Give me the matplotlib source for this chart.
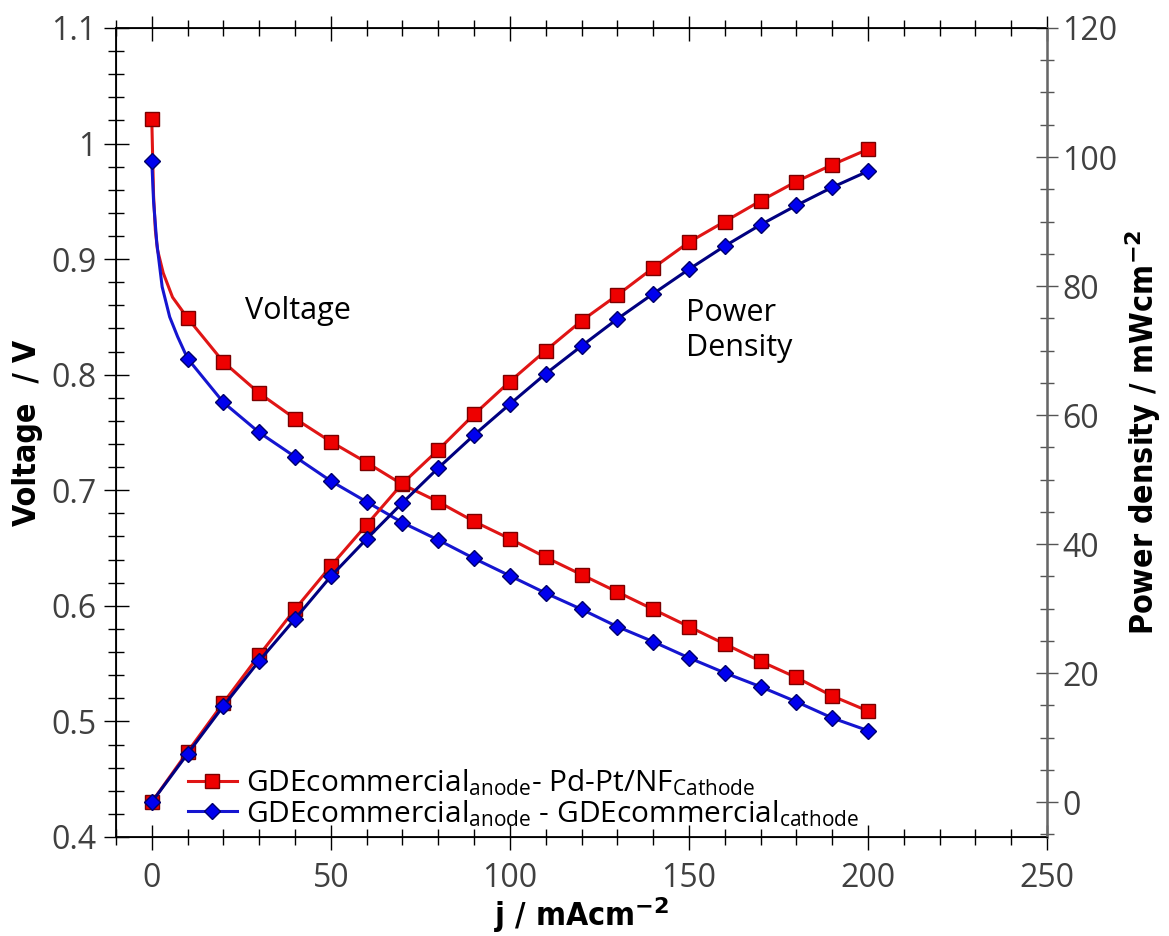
import numpy as np
import matplotlib
matplotlib.use("Agg")
import matplotlib.pyplot as plt
from matplotlib import font_manager
from matplotlib.ticker import MultipleLocator, FuncFormatter

# current density (mA cm-2), marker points
j = [0, 10, 20, 30, 40, 50, 60, 70, 80, 90, 100,
     110, 120, 130, 140, 150, 160, 170, 180, 190, 200]

v_red = [1.021, 0.849, 0.811, 0.784, 0.762, 0.742, 0.724, 0.705, 0.690, 0.673, 0.658,
         0.642, 0.627, 0.612, 0.597, 0.582, 0.567, 0.552, 0.538, 0.522, 0.509]
v_blue = [0.985, 0.814, 0.776, 0.750, 0.729, 0.708, 0.690, 0.672, 0.657, 0.641, 0.626,
          0.611, 0.597, 0.582, 0.569, 0.555, 0.542, 0.530, 0.517, 0.503, 0.492]

# extra low-current points on the voltage curves (line only, no markers)
j_red_low = [0.5, 1.0, 1.6, 3.2, 5.8]
v_red_low = [0.955, 0.925, 0.908, 0.888, 0.867]
j_blue_low = [0.5, 1.4, 2.9, 5.0, 7.2]
v_blue_low = [0.950, 0.914, 0.876, 0.850, 0.833]

p_red = [0, 7.8, 15.4, 22.8, 29.9, 36.6, 43.0, 49.4, 54.6, 60.1, 65.2,
         70.0, 74.6, 78.6, 82.8, 86.8, 90.0, 93.2, 96.2, 98.8, 101.2]
p_blue = [0, 7.5, 14.9, 21.9, 28.4, 35.0, 40.8, 46.4, 51.8, 56.9, 61.7,
          66.4, 70.7, 74.9, 78.8, 82.6, 86.2, 89.5, 92.5, 95.3, 97.8]

lab_red = r"GDEcommercial$\mathregular{_{anode}}$- Pd-Pt/NF$\mathregular{_{Cathode}}$"
lab_blue = r"GDEcommercial$\mathregular{_{anode}}$ - GDEcommercial$\mathregular{_{cathode}}$"

tick_font = "Open Sans"
plt.rcParams["mathtext.fontset"] = "custom"
plt.rcParams["mathtext.rm"] = "Open Sans"

# condensed bold font for the axis titles, if one is installed
cond = None
for f in font_manager.fontManager.ttflist:
    n = f.fname.lower()
    if ("condensed-bold." in n or "narrow-bold." in n or "sanscondensed-bold" in n):
        cond = f.fname
        break
if cond:
    lab_fp = font_manager.FontProperties(fname=cond, size=23)
    plt.rcParams["mathtext.bf"] = font_manager.FontProperties(fname=cond).get_name() + ":bold"
else:
    lab_fp = font_manager.FontProperties(family="DejaVu Sans", weight="bold", size=20)

fig = plt.figure(figsize=(11.69, 9.36), dpi=100)
ax = fig.add_axes([0.0992, 0.1058, 0.7965, 0.8643])
ax2 = ax.twinx()


def merge(jm, vm, jl, vl):
    jj = np.concatenate([[jm[0]], jl, jm[1:]])
    vv = np.concatenate([[vm[0]], vl, vm[1:]])
    me = [0] + list(range(len(jl) + 1, len(jj)))
    return jj, vv, me


jr, vr, mr = merge(j, v_red, j_red_low, v_red_low)
jb, vb, mb = merge(j, v_blue, j_blue_low, v_blue_low)

ax.plot(jr, vr, color="#e01515", lw=2.2, marker="s", ms=10.5, mfc="#ee0000",
        mec="#7a0000", mew=1.0, markevery=mr, label=lab_red)
ax.plot(jb, vb, color="#1515d0", lw=2.2, marker="D", ms=8.5, mfc="#0000ee",
        mec="#00006a", mew=1.0, markevery=mb, label=lab_blue)

ax2.plot(j, p_blue, color="#000080", lw=2.2, marker="D", ms=8.5, mfc="#0000ee",
         mec="#00006a", mew=1.0)
ax2.plot(j, p_red, color="#e01515", lw=2.2, marker="s", ms=10.5, mfc="#ee0000",
         mec="#7a0000", mew=1.0, zorder=1.9)

ax.set_xlim(-10, 250)
ax.set_ylim(0.4, 1.1)
ax2.set_ylim(-5.4, 120)

ax.xaxis.set_major_locator(MultipleLocator(50))
ax.xaxis.set_minor_locator(MultipleLocator(10))
ax.yaxis.set_major_locator(MultipleLocator(0.1))
ax.yaxis.set_minor_locator(MultipleLocator(0.02))
ax.yaxis.set_major_formatter(FuncFormatter(lambda v, p: "%g" % round(v, 2)))
ax2.yaxis.set_major_locator(MultipleLocator(20))
ax2.yaxis.set_minor_locator(MultipleLocator(5))

ax.tick_params(axis="both", which="major", direction="inout", length=18, width=1.0,
               labelsize=23, labelcolor="#404040", top=True, right=False)
ax.tick_params(axis="both", which="minor", direction="inout", length=11, width=1.0,
               top=True, right=False)
ax.tick_params(axis="x", pad=9)
ax.tick_params(axis="y", pad=5)
ax2.tick_params(axis="y", which="major", direction="inout", length=16, width=1.0,
                labelsize=23, labelcolor="#404040", color="#555555", pad=3)
ax2.tick_params(axis="y", which="minor", direction="inout", length=10, width=1.0,
                color="#555555")
for t in ax.get_xticklabels() + ax.get_yticklabels() + ax2.get_yticklabels():
    t.set_fontfamily(tick_font)

for s in ["left", "bottom", "top"]:
    ax.spines[s].set_linewidth(1.3)
ax2.spines["right"].set_color("#666666")
ax2.spines["right"].set_linewidth(1.8)

ax.set_xlabel(r"j / mAcm$^{\mathbf{-2}}$", fontproperties=lab_fp, labelpad=0)
ax.set_ylabel("Voltage  / V", fontproperties=lab_fp, labelpad=6)
ax2.set_ylabel(r"Power density / mWcm$^{\mathbf{-2}}$", fontproperties=lab_fp, labelpad=4)

ax.text(26, 0.855, "Voltage", family=tick_font, fontsize=22, va="center", ha="left")
ax2.text(149.2, 78.2, "Power\nDensity", family=tick_font, fontsize=22, va="top", ha="left",
         linespacing=1.22)

h, l = ax.get_legend_handles_labels()
leg = ax2.legend(h, l, loc="lower left", bbox_to_anchor=(0.077, 0.01), frameon=False,
                 prop={"family": tick_font, "size": 21.5}, handlelength=1.64,
                 handletextpad=0.33, labelspacing=0.0, borderpad=0, borderaxespad=0)

fig.savefig("out.png", dpi=100)
